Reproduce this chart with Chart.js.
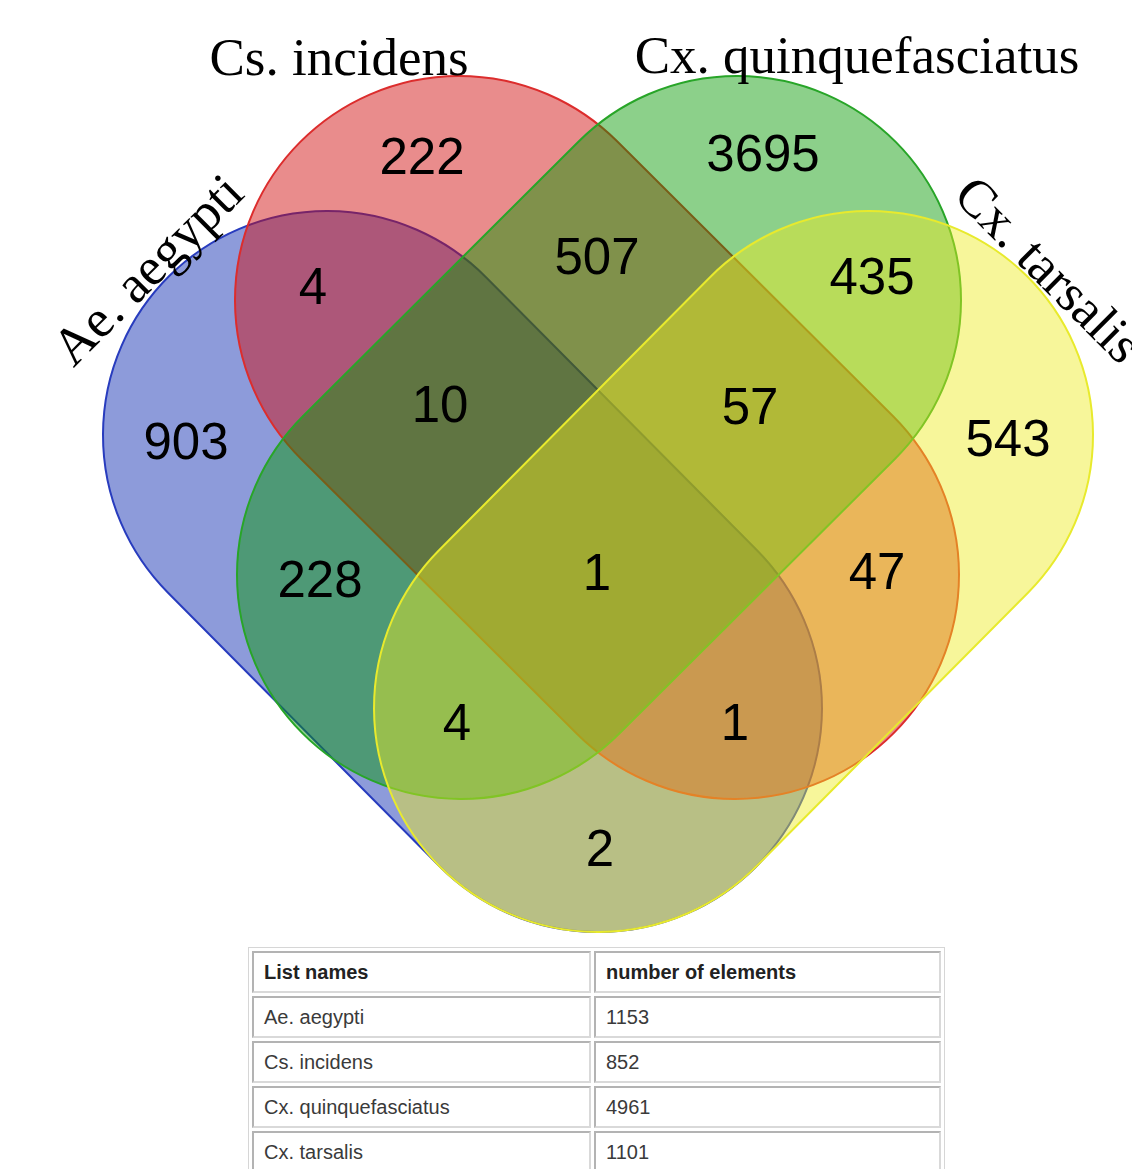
<!DOCTYPE html>
<html>
<head>
<meta charset="utf-8">
<script src="https://cdn.jsdelivr.net/npm/chart.js@4.4.1/dist/chart.umd.min.js"></script>
<style>
  body {
    margin: 0;
    background: #fff;
    width: 1132px;
    height: 1169px;
    overflow: hidden;
    position: relative;
  }
  #vennBox {
    position: absolute;
    left: 0;
    top: 0;
    width: 1132px;
    height: 940px;
  }
  table.counts {
    position: absolute;
    left: 248px;
    top: 947px;
    border: 1px solid #d6d6d6;
    border-spacing: 3px;
    font-family: "Liberation Sans", Arial, sans-serif;
    font-size: 20px;
    color: #3a3a3a;
  }
  table.counts td, table.counts th {
    border: 2px solid;
    border-color: #b3b3b3 #d9d9d9 #d9d9d9 #b3b3b3;
    height: 38px;
    padding: 0 10px;
    text-align: left;
  }
  table.counts th { font-weight: bold; color: #222; }
  table.counts .c1 { width: 315px; }
  table.counts .c2 { width: 323px; }
</style>
</head>
<body>
<div id="vennBox"><canvas id="vennChart"></canvas></div>
<table class="counts" id="countTable"></table>

<script>
// list names and their sizes (from the table)
const setNames = ["Ae. aegypti", "Cs. incidens", "Cx. quinquefasciatus", "Cx. tarsalis"];
const setTotals = [1153, 852, 4961, 1101];

// region membership (A=Ae, B=Cs, C=Cx.q, D=Cx.t) and counts
const regionKeys = ["B", "C", "AB", "BC", "CD", "A", "ABC", "BCD", "D", "AC", "ABCD", "BD", "ACD", "ABD", "AD"];
const regionCounts = [222, 3695, 4, 507, 435, 903, 10, 57, 543, 228, 1, 47, 4, 1, 2];

// drawing layout, in chart units (1 unit = 1 px here)
const vennLayout = {
  width: 1132,
  height: 940,
  radius: 224,
  shapes: [
    [[327, 435], [598, 708]],
    [[459, 300], [735, 575]],
    [[737, 300], [461, 575]],
    [[869, 435], [598, 708]]
  ],
  regionPos: [
    [422, 160], [763, 157], [313, 290], [597, 260], [872, 280],
    [186, 445], [440, 408], [750, 410], [1008, 442],
    [320, 583], [597, 576], [877, 575],
    [457, 726], [735, 726], [600, 852]
  ],
  titlePos: [[150, 272, -45], [339, 75, 0], [857, 73, 0], [1046, 272, 45]]
};

const setFills = ["rgba(16, 45, 178, 0.48)", "rgba(208, 10, 10, 0.47)", "rgba(5, 153, 0, 0.46)", "rgba(238, 234, 30, 0.45)"];
const setStrokes = ["rgb(40, 60, 190)", "rgb(220, 45, 45)", "rgb(40, 165, 40)", "rgb(232, 234, 45)"];

function buildTable() {
  const table = document.getElementById("countTable");
  let html = `<tr><th class="c1">List names</th><th class="c2">number of elements</th></tr>`;
  setNames.forEach((name, i) => {
    html += `<tr><td class="c1">${name}</td><td class="c2">${setTotals[i]}</td></tr>`;
  });
  table.innerHTML = html;
}

function capsulePath(ctx, a, b, r) {
  const t = Math.atan2(b[1] - a[1], b[0] - a[0]);
  ctx.beginPath();
  ctx.arc(a[0], a[1], r, t + Math.PI / 2, t + Math.PI * 1.5);
  ctx.arc(b[0], b[1], r, t - Math.PI / 2, t + Math.PI / 2);
  ctx.closePath();
}

const vennPlugin = {
  id: "vennShapes",
  beforeDatasetsDraw(chart) {
    const { ctx, scales: { x, y } } = chart;
    const r = x.getPixelForValue(vennLayout.radius) - x.getPixelForValue(0);

    ctx.save();
    vennLayout.shapes.forEach((ends, i) => {
      const a = [x.getPixelForValue(ends[0][0]), y.getPixelForValue(ends[0][1])];
      const b = [x.getPixelForValue(ends[1][0]), y.getPixelForValue(ends[1][1])];
      capsulePath(ctx, a, b, r);
      ctx.fillStyle = setFills[i];
      ctx.fill();
      ctx.lineWidth = 2;
      ctx.strokeStyle = setStrokes[i];
      ctx.stroke();
    });
    ctx.restore();
  },
  afterDatasetsDraw(chart) {
    const { ctx, scales: { x, y } } = chart;
    const meta = chart.getDatasetMeta(0);

    ctx.save();
    ctx.fillStyle = "#000";
    ctx.font = '51px "Liberation Sans", Arial, sans-serif';
    ctx.textAlign = "center";
    ctx.textBaseline = "middle";
    meta.data.forEach((pt, i) => {
      ctx.fillText(String(regionCounts[i]), pt.x, pt.y);
    });

    ctx.font = '53px "Liberation Serif", "Times New Roman", serif';
    setNames.forEach((name, i) => {
      const [tx, ty, rot] = vennLayout.titlePos[i];
      ctx.save();
      ctx.translate(x.getPixelForValue(tx), y.getPixelForValue(ty));
      ctx.rotate(rot * Math.PI / 180);
      ctx.textBaseline = rot === 0 ? "alphabetic" : "middle";
      ctx.fillText(name, 0, 0);
      ctx.restore();
    });
    ctx.restore();
  }
};

function renderVenn() {
  const points = regionCounts.map((value, i) => ({
    x: vennLayout.regionPos[i][0],
    y: vennLayout.regionPos[i][1],
    v: value
  }));

  new Chart(document.getElementById("vennChart"), {
    type: "scatter",
    data: {
      datasets: [{
        label: "regions",
        data: points,
        pointRadius: 0,
        pointHoverRadius: 0
      }]
    },
    options: {
      responsive: true,
      maintainAspectRatio: false,
      animation: false,
      events: [],
      layout: { padding: 0 },
      plugins: {
        legend: { display: false },
        tooltip: { enabled: false }
      },
      scales: {
        x: { type: "linear", min: 0, max: vennLayout.width, display: false },
        y: { type: "linear", min: 0, max: vennLayout.height, reverse: true, display: false }
      }
    },
    plugins: [vennPlugin]
  });
}

buildTable();
renderVenn();
</script>
</body>
</html>
